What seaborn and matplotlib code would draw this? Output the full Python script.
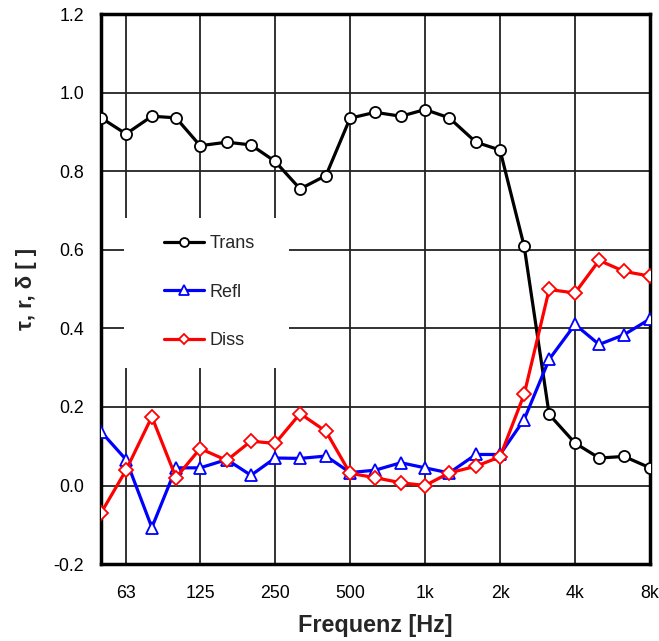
import numpy as np
import pandas as pd
import matplotlib
matplotlib.use("Agg")
import matplotlib.pyplot as plt
from matplotlib.patches import Rectangle
import seaborn as sns

# third-octave bands 50 Hz .. 8 kHz
freq = [50, 63, 80, 100, 125, 160, 200, 250, 315, 400, 500, 630, 800,
        1000, 1250, 1600, 2000, 2500, 3150, 4000, 5000, 6300, 8000]

trans = [0.936, 0.895, 0.940, 0.936, 0.865, 0.874, 0.867, 0.825, 0.755, 0.789,
         0.935, 0.950, 0.940, 0.957, 0.936, 0.874, 0.854, 0.609, 0.181, 0.108,
         0.070, 0.074, 0.045]
refl = [0.137, 0.066, -0.107, 0.045, 0.045, 0.066, 0.026, 0.070, 0.069, 0.075,
        0.033, 0.039, 0.058, 0.045, 0.032, 0.079, 0.079, 0.168, 0.321, 0.410,
        0.359, 0.384, 0.424]
diss = [-0.070, 0.039, 0.175, 0.020, 0.094, 0.064, 0.113, 0.107, 0.183, 0.138,
        0.031, 0.020, 0.007, 0.000, 0.032, 0.049, 0.073, 0.232, 0.499, 0.490,
        0.573, 0.545, 0.533]

xticks = [63, 125, 250, 500, 1000, 2000, 4000, 8000]
xticklabels = ["63", "125", "250", "500", "1k", "2k", "4k", "8k"]
yticks = [-0.2, 0.0, 0.2, 0.4, 0.6, 0.8, 1.0, 1.2]

series = [("Trans", trans, "black", "o", 8),
          ("Refl", refl, "blue", "^", 9),
          ("Diss", diss, "red", "D", 7)]

sns.set_style("white")
plt.rcParams["font.family"] = ["Liberation Sans", "DejaVu Sans"]

fig = plt.figure(figsize=(6.59, 6.41), dpi=100)
ax = fig.add_axes([0.1533, 0.120, 0.833, 0.858])

for name, vals, col, mk, ms in series:
    df = pd.DataFrame({"f": freq, "v": vals})
    sns.lineplot(data=df, x="f", y="v", ax=ax, color=col, lw=2.3,
                 marker=mk, markersize=ms, markerfacecolor="white",
                 markeredgecolor=col, markeredgewidth=1.3, label=name,
                 zorder=3)

ax.set_xscale("log")
ax.set_xlim(50, 8000)
ax.set_ylim(-0.2, 1.2)
ax.set_xticks(xticks)
ax.set_xticklabels(xticklabels)
ax.minorticks_off()
ax.set_yticks(yticks)
ax.set_yticklabels([f"{t:.1f}" for t in yticks])
ax.tick_params(length=0, labelsize=12.8, colors="black")
ax.tick_params(axis="x", pad=15)
ax.tick_params(axis="y", pad=12)

ax.grid(True, color="#222222", lw=1.3, zorder=1)
for sp in ax.spines.values():
    sp.set_color("black")
    sp.set_linewidth(2.5)

ax.set_xlabel("Frequenz [Hz]", fontsize=16.8, fontweight="bold", labelpad=9)
ax.set_ylabel("τ, r, δ [ ]", fontsize=16, fontweight="bold", labelpad=12)

# white legend area over the grid
ax.add_patch(Rectangle((0.042, 0.356), 0.30, 0.273, transform=ax.transAxes,
                       facecolor="white", edgecolor="none", zorder=2))
leg = ax.legend(loc="upper left", bbox_to_anchor=(0.1148, 0.598), frameon=False,
                fontsize=13, labelspacing=1.75, handlelength=2.2,
                handletextpad=0.3, borderpad=0, borderaxespad=0,
                markerscale=0.8)
leg.set_zorder(5)

fig.savefig("out.png", dpi=100)
